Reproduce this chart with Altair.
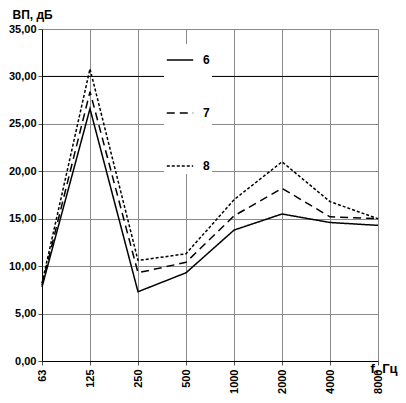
import altair as alt
import pandas as pd

freqs = ["63", "125", "250", "500", "1000", "2000", "4000", "8000"]
series_names = ["6", "7", "8"]
s6 = [7.8, 26.6, 7.3, 9.3, 13.8, 15.5, 14.6, 14.3]
s7 = [8.0, 28.4, 9.3, 10.4, 15.3, 18.2, 15.2, 15.0]
s8 = [8.2, 30.8, 10.6, 11.3, 17.0, 21.0, 16.8, 15.0]
y_ticks = [0, 5, 10, 15, 20, 25, 30, 35]
highlight = [30]

rows = []
for name, vals in zip(series_names, [s6, s7, s8]):
    for f, v in zip(freqs, vals):
        rows.append({"f": f, "v": v, "s": name})
df = pd.DataFrame(rows)

FONT = "Liberation Sans"

x = alt.X("f:O", sort=freqs,
          scale=alt.Scale(type="point", padding=0),
          axis=alt.Axis(title="f, Гц", labelAngle=-90, labelFontSize=11,
                        labelPadding=4, tickSize=4, titleFontSize=13,
                        titleAlign="right", titleAnchor="end",
                        titleX=355, titleY=1, titleBaseline="top"))
y = alt.Y("v:Q", scale=alt.Scale(domain=[0, 35], nice=False),
          axis=alt.Axis(title="ВП, дБ", values=y_ticks,
                        labelExpr="replace(format(datum.value, '.2f'), '.', ',')",
                        labelFontSize=11, tickSize=4, labelPadding=2,
                        titleAngle=0, titleAlign="left", titleBaseline="top",
                        titleX=-30, titleY=-20, titleFontSize=12))

lines = alt.Chart(df).mark_line(color="black", strokeWidth=1.5).encode(
    x=x, y=y,
    strokeDash=alt.StrokeDash("s:N", sort=series_names,
        scale=alt.Scale(domain=series_names, range=[[1, 0], [8, 5], [3, 2]]),
        legend=alt.Legend(title=None, orient="none", legendX=122, legendY=15,
                          direction="vertical", fillColor="white",
                          padding=2, symbolSize=700, symbolStrokeWidth=1.5,
                          symbolStrokeColor="black", symbolType="stroke",
                          labelFontSize=12, labelFont=FONT, labelFontWeight="bold",
                          labelOffset=9, rowPadding=33))
)

rule = alt.Chart(pd.DataFrame({"y": highlight})).mark_rule(color="black", strokeWidth=1).encode(
    y=alt.Y("y:Q", scale=alt.Scale(domain=[0, 35], nice=False))
)

chart = alt.layer(rule, lines).properties(
    width=336, height=332,
    autosize=alt.AutoSizeParams(type="none"),
    padding={"left": 34, "top": 21, "right": 20, "bottom": 34},
).configure_view(stroke=None).configure_axis(
    labelFont=FONT, titleFont=FONT, labelFontWeight="bold", titleFontWeight="bold",
    labelColor="black", titleColor="black", gridColor="#8a8a8a", gridOpacity=1,
    gridWidth=1, domainColor="black", tickColor="#555555", domainWidth=1
).configure_axisX(grid=True).configure_axisY(grid=True)

chart.save("out.html", embed_options={"renderer": "svg", "actions": False})
